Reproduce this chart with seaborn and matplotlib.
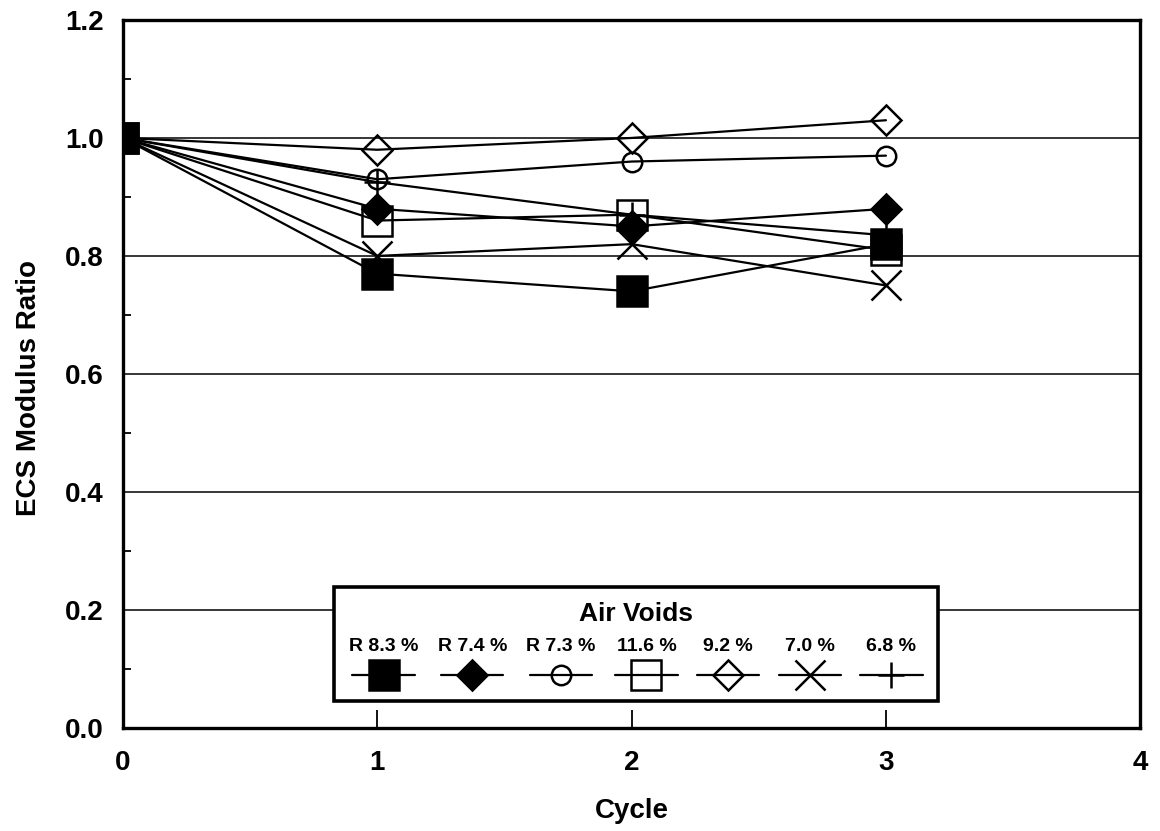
import matplotlib
matplotlib.use("Agg")
import matplotlib.pyplot as plt
import seaborn as sns
import numpy as np
from matplotlib.offsetbox import VPacker
from matplotlib.ticker import MultipleLocator

# ---- data ----
cycles = [0, 1, 2, 3]
labels = ["R 8.3 %", "R 7.4 %", "R 7.3 %", "11.6 %", "9.2 %", "7.0 %", "6.8 %"]
r83 = [1.0, 0.77, 0.74, 0.82]
r74 = [1.0, 0.88, 0.85, 0.88]
r73 = [1.0, 0.93, 0.96, 0.97]
v116 = [1.0, 0.86, 0.87, 0.81]
v92 = [1.0, 0.98, 1.0, 1.03]
v70 = [1.0, 0.80, 0.82, 0.75]
v68 = [1.0, 0.925, 0.87, 0.835]
series = [r83, r74, r73, v116, v92, v70, v68]
x_ticks = [0, 1, 2, 3, 4]
y_ticks = [0.0, 0.2, 0.4, 0.6, 0.8, 1.0, 1.2]

# ---- styles ----
markers = ["s", "D", "o", "s", "D", "x", "+"]
msizes = [21, 15, 14, 21, 15, 22, 19]
filled = [True, True, False, False, False, False, False]
zorders = [6, 6, 4, 4, 4, 4, 4]

sns.set_style("ticks")
plt.rcParams["font.family"] = ["Liberation Sans", "DejaVu Sans"]
plt.rcParams["font.weight"] = "bold"
plt.rcParams["legend.fancybox"] = False
for k in ["text.color", "axes.labelcolor", "xtick.color", "ytick.color",
          "axes.edgecolor"]:
    plt.rcParams[k] = "black"

fig = plt.figure(figsize=(11.6, 8.31), dpi=100)
ax = fig.add_axes([0.106, 0.124, 0.877, 0.852])

handles = []
for vals, m, ms, f, z, lab in zip(series, markers, msizes, filled, zorders, labels):
    sns.lineplot(x=cycles, y=vals, ax=ax, color="black", lw=1.6,
                 marker=m, markersize=ms,
                 markerfacecolor="black" if f else "none",
                 markeredgecolor="black", markeredgewidth=1.8,
                 zorder=z, legend=False)
    handles.append(ax.lines[-1])

ax.set_xlim(0, 4)
ax.set_ylim(0, 1.2)
ax.set_xticks(x_ticks)
ax.set_xticklabels([str(t) for t in x_ticks])
ax.set_yticks(y_ticks)
ax.set_yticklabels([f"{t:.1f}" for t in y_ticks])
ax.yaxis.set_minor_locator(MultipleLocator(0.1))
for yv in [0.2, 0.4, 0.6, 0.8, 1.0]:
    ax.axhline(yv, color="black", lw=1.1, zorder=1)

ax.tick_params(axis="x", which="major", direction="in", length=13, width=1.3,
               labelsize=20, pad=16)
ax.tick_params(axis="y", which="major", direction="in", length=0,
               labelsize=20, pad=14)
ax.tick_params(axis="y", which="minor", direction="in", length=6, width=1.3)
for lab in ax.get_xticklabels() + ax.get_yticklabels():
    lab.set_fontweight("bold")
for sp in ax.spines.values():
    sp.set_visible(True)
    sp.set_linewidth(2.4)
    sp.set_color("black")

ax.set_xlabel("Cycle", fontsize=20, fontweight="bold", labelpad=16)
ax.set_ylabel("ECS Modulus Ratio", fontsize=20, fontweight="bold")
ax.yaxis.set_label_coords(-0.080, 0.48)

leg = ax.legend(handles, labels, title="Air Voids", ncol=7,
                loc="lower center", bbox_to_anchor=(0.504, 0.025),
                frameon=True, handlelength=3.2, handleheight=1.13,
                handletextpad=0.0, borderpad=0.77, columnspacing=1.0,
                labelspacing=0.65,
                prop={"weight": "bold", "size": 14},
                title_fontproperties={"weight": "bold", "size": 19},
                framealpha=1)
leg.get_frame().set_edgecolor("black")
leg.get_frame().set_linewidth(2.6)
leg.set_zorder(10)
for col in leg._legend_handle_box.get_children():
    for item in col.get_children():
        item.__class__ = VPacker
        item._children = item._children[::-1]
        item.align = "center"
        item.sep = 8

fig.savefig("out.png", dpi=100)
